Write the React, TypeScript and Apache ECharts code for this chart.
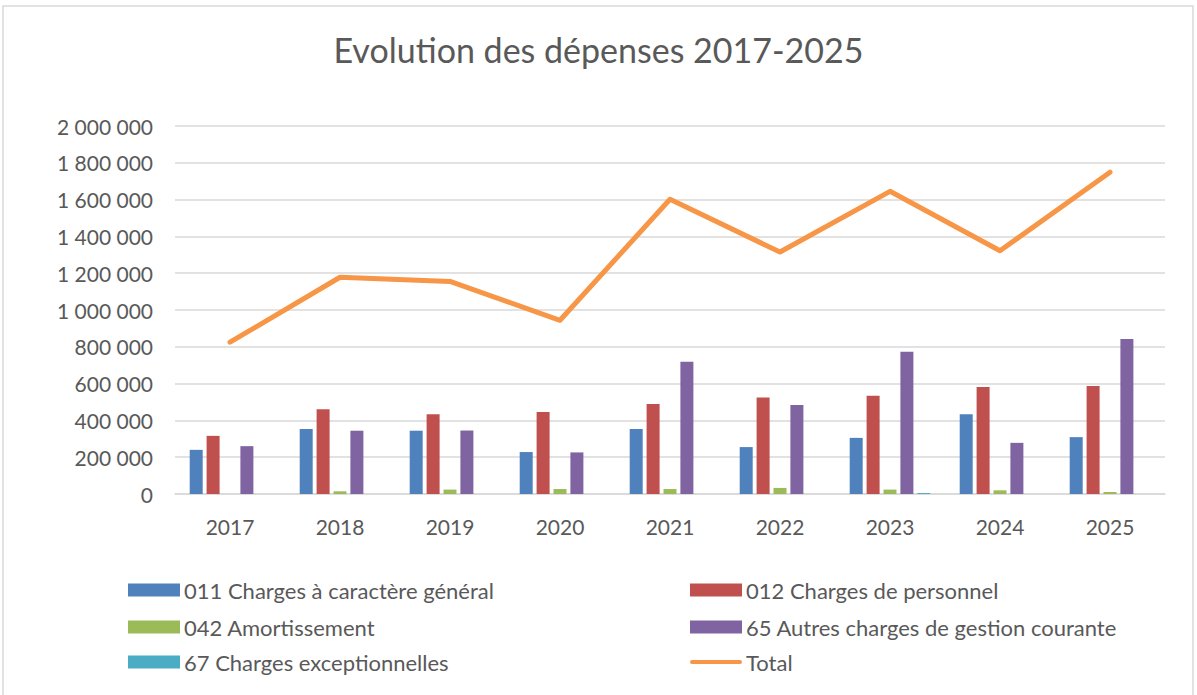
import React, { useEffect, useRef } from "react";
import * as echarts from "echarts";

const categories = ["2017", "2018", "2019", "2020", "2021", "2022", "2023", "2024", "2025"];
const chargesGenerales = [240000, 353000, 344000, 228000, 353000, 255000, 305000, 434000, 309000];
const chargesPersonnel = [316000, 460000, 434000, 446000, 489000, 525000, 534000, 582000, 587000];
const amortissement = [0, 14500, 24000, 27000, 27000, 33000, 24000, 20000, 11000];
const autresCharges = [260000, 344000, 345000, 226000, 719000, 484000, 773000, 278000, 842000];
const chargesExceptionnelles = [0, 0, 0, 0, 0, 0, 5000, 0, 0];
const total = [825000, 1178000, 1155000, 944000, 1602000, 1315000, 1645000, 1322000, 1749000];

const names = [
  "011 Charges à caractère général",
  "012 Charges de personnel",
  "042 Amortissement",
  "65 Autres charges de gestion courante",
  "67 Charges exceptionnelles",
  "Total",
];
const colors = ["#4F81BD", "#C0504D", "#9BBB59", "#8064A2", "#4BACC6", "#F79646"];

const FONT = "Lato";
const TXT = "#595959";

function fmt(v: number) {
  return String(v).replace(/\B(?=(\d{3})+(?!\d))/g, " ");
}

export default function App() {
  const ref = useRef<HTMLDivElement>(null);
  useEffect(() => {
    if (!ref.current) return;
    const chart = echarts.init(ref.current, undefined, { renderer: "svg" });
    const barData = [chargesGenerales, chargesPersonnel, amortissement, autresCharges, chargesExceptionnelles];
    const legendPos = [
      { left: 128, top: 579 },
      { left: 690, top: 579 },
      { left: 128, top: 616 },
      { left: 690, top: 616 },
      { left: 128, top: 651 },
      { left: 690, top: 651 },
    ];
    chart.setOption({
      animation: false,
      textStyle: { fontFamily: FONT },
      title: {
        text: "Evolution des dépenses 2017-2025",
        left: "center",
        top: 27,
        textStyle: { fontFamily: FONT, fontSize: 34, fontWeight: "normal", color: TXT },
      },
      graphic: [
        {
          type: "rect",
          shape: { x: 3, y: 6, width: 1190, height: 700 },
          style: { fill: "none", stroke: "#D9D9D9", lineWidth: 1.5 },
          silent: true,
        },
      ],
      legend: names.map((n, i) => ({
        data: [
          i === 5
            ? { name: n, icon: "path://M2,0 L50,0 A2,2 0 0 1 50,4 L2,4 A2,2 0 0 1 2,0 Z" }
            : { name: n, icon: "rect" },
        ],
        left: legendPos[i].left,
        top: legendPos[i].top,
        padding: 0,
        itemWidth: 52,
        itemHeight: i === 5 ? 5 : 13,
        itemGap: 4,
        textStyle: { fontFamily: FONT, fontSize: 22, color: TXT, padding: [0, 0, 0, -1] },
        selectedMode: false,
      })),
      grid: { left: 175, right: 32, top: 126, bottom: 201, containLabel: false },
      xAxis: {
        type: "category",
        data: categories,
        axisTick: { show: false },
        axisLine: { lineStyle: { color: "#D9D9D9", width: 1.5 } },
        axisLabel: { color: TXT, fontSize: 21, fontFamily: FONT, margin: 22 },
      },
      yAxis: {
        type: "value",
        min: 0,
        max: 2000000,
        interval: 200000,
        axisLine: { show: false },
        axisTick: { show: false },
        splitLine: { lineStyle: { color: "#D9D9D9", width: 1.5 } },
        axisLabel: { color: TXT, fontSize: 21, fontFamily: FONT, margin: 22, formatter: (v: number) => fmt(v) },
      },
      series: [
        ...barData.map((d, i) => ({
          name: names[i],
          type: "bar",
          data: d,
          barWidth: 13,
          barGap: "30%",
          itemStyle: { color: colors[i] },
        })),
        {
          name: names[5],
          type: "line",
          data: total,
          symbol: "none",
          lineStyle: { color: colors[5], width: 5, cap: "round", join: "round" },
          itemStyle: { color: colors[5] },
        },
      ],
    });
    return () => chart.dispose();
  }, []);
  return (
    <div
      ref={ref}
      style={{ position: "fixed", left: 0, top: 0, width: 1197, height: 695, background: "#fff" }}
    />
  );
}
